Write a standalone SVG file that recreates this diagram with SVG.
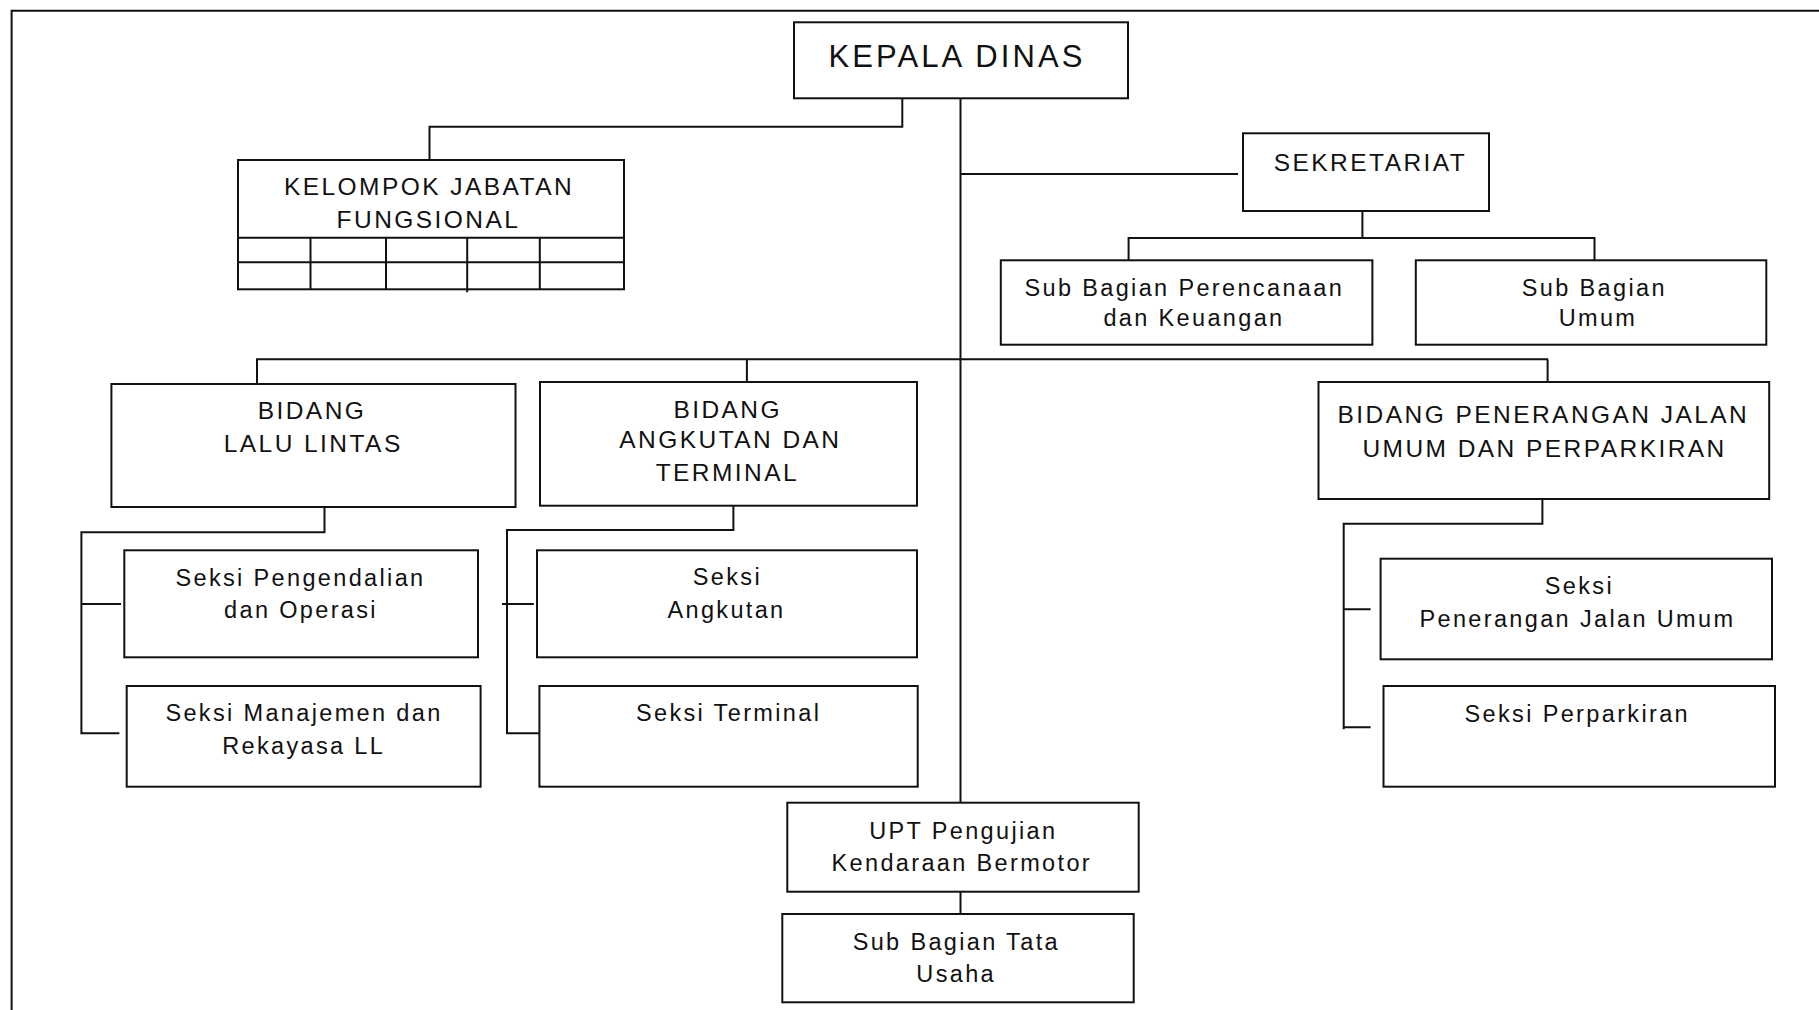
<svg xmlns="http://www.w3.org/2000/svg" width="1819" height="1010" viewBox="0 0 1819 1010">
<style>
.bx{fill:#fff;stroke:#111;stroke-width:2}
.ln{fill:none;stroke:#111;stroke-width:2}
text{font-family:"Liberation Sans",Arial,sans-serif;fill:#111;text-anchor:middle;letter-spacing:0.1em}
.t{font-size:23.5px}
.u{font-size:24.5px}
.h{font-size:31px}
</style>
<rect width="1819" height="1010" fill="#fff"/>
<path class="ln" d="M11.6,1010 V10.7 H1819"/>
<g id="connectors">
<path class="ln" d="M902.3,98.3 V126.7 H429.5 V160"/>
<path class="ln" d="M960.5,98.3 V802.7"/>
<path class="ln" d="M960.5,174 H1238"/>
<path class="ln" d="M1362.4,211 V238 M1128.6,260.3 V238 H1594.5 V260.3"/>
<path class="ln" d="M257,384 V359.3 H1548 M746.9,359.3 V382 M1547.6,359.3 V382"/>
<path class="ln" d="M324.5,507 V532.3 H81.4 V733.3 H119.4 M81.4,604 H121"/>
<path class="ln" d="M733.4,505.7 V530 H507 V733.3 H541.8 M502,604 H533.8"/>
<path class="ln" d="M1542.4,499 V523.7 H1343.7 V729.3 M1343.7,609.3 H1370.6 M1343.7,727.3 H1370.6"/>
<path class="ln" d="M960.5,891.7 V914"/>
</g>
<g id="kepala-dinas">
<rect class="bx" x="794" y="22.3" width="334" height="76"/>
<text class="h" x="957" y="66.7">KEPALA DINAS</text>
</g>
<g id="kelompok-jabatan-fungsional">
<rect class="bx" x="238" y="160" width="386" height="129.3"/>
<path class="ln" d="M238,237.7 H624 M238,262.3 H624 M310.5,237.7 V289.3 M386,237.7 V289.3 M467.2,237.7 V292.3 M539.8,237.7 V289.3"/>
<text class="u" x="429" y="195">KELOMPOK JABATAN</text>
<text class="u" x="428.5" y="228.3">FUNGSIONAL</text>
</g>
<g id="sekretariat">
<rect class="bx" x="1243" y="133.3" width="246" height="77.7"/>
<text class="u" x="1370.5" y="170.7">SEKRETARIAT</text>
</g>
<g id="sub-bagian-perencanaan">
<rect class="bx" x="1000.8" y="260.3" width="371.6" height="84.4"/>
<text class="t" x="1184.3" y="295.7">Sub Bagian Perencanaan</text>
<text class="t" x="1194" y="326.3">dan Keuangan</text>
</g>
<g id="sub-bagian-umum">
<rect class="bx" x="1415.8" y="260.3" width="350.5" height="84.4"/>
<text class="t" x="1594.3" y="296">Sub Bagian</text>
<text class="t" x="1598" y="326">Umum</text>
</g>
<g id="bidang-lalu-lintas">
<rect class="bx" x="111.4" y="384" width="404.1" height="123"/>
<text class="u" x="312" y="419.3">BIDANG</text>
<text class="u" x="313.2" y="451.7">LALU LINTAS</text>
</g>
<g id="bidang-angkutan">
<rect class="bx" x="540" y="382" width="377" height="123.7"/>
<text class="u" x="727.7" y="417.7">BIDANG</text>
<text class="u" x="730.4" y="448.3">ANGKUTAN DAN</text>
<text class="u" x="727.4" y="481">TERMINAL</text>
</g>
<g id="bidang-pju">
<rect class="bx" x="1318.5" y="382" width="450.7" height="117"/>
<text class="u" x="1543.4" y="423.3">BIDANG PENERANGAN JALAN</text>
<text class="u" x="1544.6" y="456.7">UMUM DAN PERPARKIRAN</text>
</g>
<g id="seksi-pengendalian">
<rect class="bx" x="124.3" y="550.3" width="353.7" height="107"/>
<text class="t" x="300.5" y="585.7">Seksi Pengendalian</text>
<text class="t" x="301" y="618.3">dan Operasi</text>
</g>
<g id="seksi-manajemen">
<rect class="bx" x="126.7" y="686" width="353.9" height="100.7"/>
<text class="t" x="304" y="720.7">Seksi Manajemen dan</text>
<text class="t" x="303.7" y="754">Rekayasa LL</text>
</g>
<g id="seksi-angkutan">
<rect class="bx" x="537" y="550.3" width="380" height="107"/>
<text class="t" x="727.4" y="585">Seksi</text>
<text class="t" x="726.5" y="618.3">Angkutan</text>
</g>
<g id="seksi-terminal">
<rect class="bx" x="539.4" y="686" width="378.3" height="100.7"/>
<text class="t" x="728.6" y="720.7">Seksi Terminal</text>
</g>
<g id="seksi-pju">
<rect class="bx" x="1380.6" y="558.7" width="391.4" height="100.6"/>
<text class="t" x="1579.4" y="594">Seksi</text>
<text class="t" x="1577.4" y="626.7">Penerangan Jalan Umum</text>
</g>
<g id="seksi-perparkiran">
<rect class="bx" x="1383.5" y="686" width="391.5" height="100.7"/>
<text class="t" x="1577.3" y="721.7">Seksi Perparkiran</text>
</g>
<g id="upt-pengujian">
<rect class="bx" x="787.3" y="802.7" width="351.4" height="89"/>
<text class="t" x="963.3" y="839">UPT Pengujian</text>
<text class="t" x="961.8" y="871">Kendaraan Bermotor</text>
</g>
<g id="sub-bagian-tata-usaha">
<rect class="bx" x="782.3" y="914" width="351.4" height="88.3"/>
<text class="t" x="956.3" y="950">Sub Bagian Tata</text>
<text class="t" x="956.2" y="981.7">Usaha</text>
</g>
</svg>
